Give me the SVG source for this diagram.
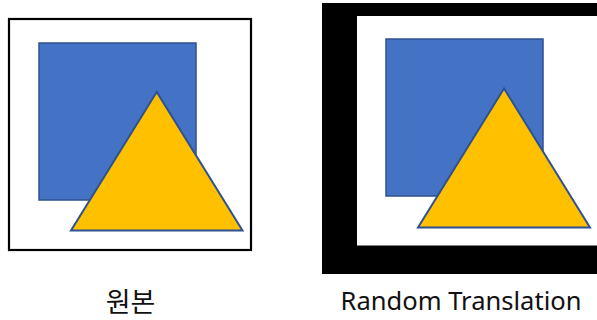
<svg xmlns="http://www.w3.org/2000/svg" width="597" height="320" viewBox="0 0 597 320">
<style>
.sq{fill:#4472C4;stroke:#2F528F;stroke-width:1.5}
.tri{fill:#FFC000;stroke:#2F528F;stroke-width:2;stroke-linejoin:miter}
.lbl{font-family:"Noto Sans","Noto Sans CJK KR",sans-serif;font-size:25px;fill:#111;text-anchor:middle}
</style>
<rect width="597" height="320" fill="#fff"/>
<g id="original">
<rect x="9" y="19" width="242" height="231" fill="#fff" stroke="#000" stroke-width="2.2"/>
<rect class="sq" x="39" y="43" width="157" height="157"/>
<polygon class="tri" points="156.7,92 71,230.5 242.5,230.5"/>
</g>
<g id="translated">
<rect x="322" y="3" width="280" height="271" fill="#000"/>
<rect x="357" y="16" width="245" height="229.5" fill="#fff"/>
<rect class="sq" x="386" y="39" width="157" height="157"/>
<polygon class="tri" points="504,88.5 418,227.5 590,227.5"/>
</g>
<g id="labels">
<text class="lbl" x="130.5" y="312" style="font-size:27px">원본</text>
<text class="lbl" x="461" y="310" textLength="241" lengthAdjust="spacingAndGlyphs">Random Translation</text>
</g>
</svg>
